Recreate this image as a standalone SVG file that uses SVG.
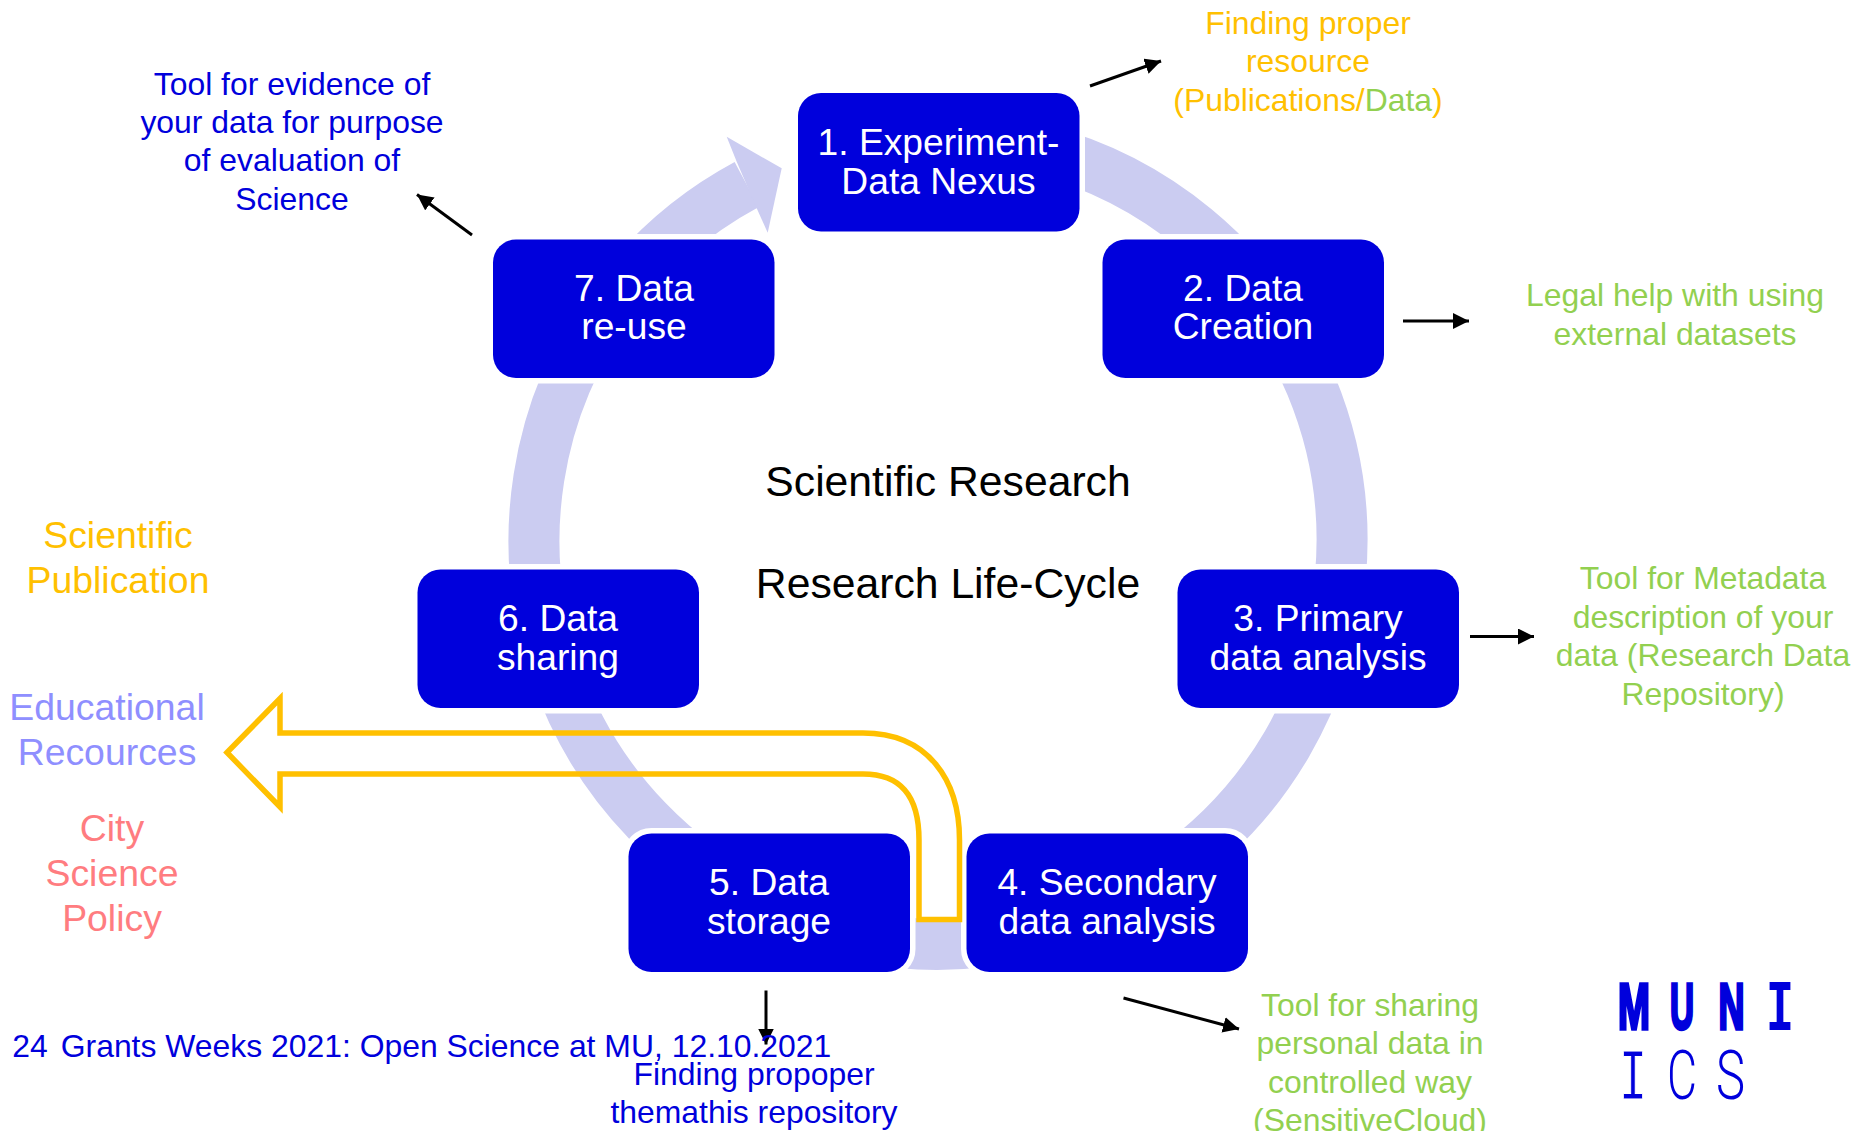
<svg xmlns="http://www.w3.org/2000/svg" width="1854" height="1131" viewBox="0 0 1854 1131">
<style>
text{font-family:"Liberation Sans",Arial,sans-serif;text-anchor:middle}
.n{fill:#0000DC;stroke:#fff;stroke-width:11;paint-order:stroke}
.nt{fill:#fff;font-size:37.2px}
.c{stroke:#000;stroke-width:3;fill:none;marker-end:url(#a)}
.l{font-size:31.9px}
.b{fill:#0000DC}.g{fill:#92D050}.y{fill:#FFC000}
.s{font-size:37.4px}
.t{fill:#000;font-size:42.7px}
.lb{fill:#0000DC;stroke:#0000DC;stroke-width:3.5;font-size:64px;font-weight:bold;text-anchor:start}
.lm{fill:#0000DC;font-family:"Liberation Mono",monospace;font-size:72px;text-anchor:start}
.ll{fill:#0000DC;font-family:Roboto,sans-serif;font-weight:300;font-size:68px;text-anchor:start}
</style>
<defs><marker id="a" markerUnits="userSpaceOnUse" markerWidth="18" markerHeight="18" refX="16" refY="8" orient="auto"><path d="M0 0L16 8L0 16Z" fill="#000"/></marker></defs>
<rect width="1854" height="1131" fill="#fff"/>
<g id="ring">
<path d="M1040 149.4A404 404 0 1 1 746.700 184.500" fill="none" stroke="#CBCCF1" stroke-width="51"/>
<path d="M736.700 161.700L726.700 136.700L781.700 168.300L767.700 232.700L756.700 208.300Z" fill="#CBCCF1"/>
</g>
<g id="node1"><rect class="n" x="798" y="93" width="281.500" height="138.500" rx="23"/><text class="nt" x="938.500" y="155">1. Experiment-</text><text class="nt" x="938.500" y="194">Data Nexus</text></g>
<g id="node2"><rect class="n" x="1102.500" y="239.500" width="281.500" height="138.500" rx="23"/><text class="nt" x="1243" y="301">2. Data</text><text class="nt" x="1243" y="339">Creation</text></g>
<g id="node3"><rect class="n" x="1177.500" y="569.500" width="281.500" height="138.500" rx="23"/><text class="nt" x="1318" y="631">3. Primary</text><text class="nt" x="1318" y="670">data analysis</text></g>
<g id="node4"><rect class="n" x="966.500" y="833.500" width="281.500" height="138.500" rx="23"/><text class="nt" x="1107" y="894.500">4. Secondary</text><text class="nt" x="1107" y="933.500">data analysis</text></g>
<g id="node5"><rect class="n" x="628.500" y="833.500" width="281.500" height="138.500" rx="23"/><text class="nt" x="769" y="894.500">5. Data</text><text class="nt" x="769" y="933.500">storage</text></g>
<g id="node6"><rect class="n" x="417.500" y="569.500" width="281.500" height="138.500" rx="23"/><text class="nt" x="558" y="631">6. Data</text><text class="nt" x="558" y="670">sharing</text></g>
<g id="node7"><rect class="n" x="493" y="239.500" width="281.500" height="138.500" rx="23"/><text class="nt" x="634" y="301">7. Data</text><text class="nt" x="634" y="339">re-use</text></g>
<g id="connectors">
<path class="c" d="M1090 86L1161 61"/>
<path class="c" d="M1403 321H1469"/>
<path class="c" d="M1470 636.500H1534"/>
<path class="c" d="M1123.500 998L1239 1029"/>
<path class="c" d="M766 990.500V1044.500"/>
<path class="c" d="M472 235L417 194.500"/>
</g>
<g id="bigarrow"><path d="M227 752.500L280 698.500V733H863C928 733 959.500 780 959.500 840V919.500H919V840C919 795 900 774 863 774H280V807Z" fill="none" stroke="#FFC000" stroke-width="5.500"/></g>
<g id="labels">
<text class="t" x="948" y="495.500">Scientific Research</text>
<text class="t" x="948" y="598">Research Life-Cycle</text>
<text class="l y" x="1308" y="34">Finding proper</text>
<text class="l y" x="1308" y="72">resource</text>
<text class="l y" x="1308" y="111">(Publications/<tspan class="g">Data</tspan>)</text>
<text class="l g" x="1675" y="306">Legal help with using</text>
<text class="l g" x="1675" y="345">external datasets</text>
<text class="l g" x="1703" y="589">Tool for Metadata</text>
<text class="l g" x="1703" y="628">description of your</text>
<text class="l g" x="1703" y="666">data (Research Data</text>
<text class="l g" x="1703" y="705">Repository)</text>
<text class="l g" x="1370" y="1016">Tool for sharing</text>
<text class="l g" x="1370" y="1054">personal data in</text>
<text class="l g" x="1370" y="1093">controlled way</text>
<text class="l g" x="1370" y="1131">(SensitiveCloud)</text>
<text class="l b" x="754" y="1085">Finding propoper</text>
<text class="l b" x="754" y="1123">themathis repository</text>
<text class="l b" x="292" y="95">Tool for evidence of</text>
<text class="l b" x="292" y="133">your data for purpose</text>
<text class="l b" x="292" y="171">of evaluation of</text>
<text class="l b" x="292" y="210">Science</text>
<text class="s y" x="118" y="547.500">Scientific</text>
<text class="s y" x="118" y="592.500">Publication</text>
<text class="s" fill="#8F8FFF" x="107" y="719.500">Educational</text>
<text class="s" fill="#8F8FFF" x="107" y="764.500">Recources</text>
<text class="s" fill="#FF7C80" x="112" y="840.500">City</text>
<text class="s" fill="#FF7C80" x="112" y="885.500">Science</text>
<text class="s" fill="#FF7C80" x="112" y="930.500">Policy</text>
<text class="l b" x="30" y="1057">24</text>
<text class="l b" x="446" y="1057">Grants Weeks 2021: Open Science at MU, 12.10.2021</text>
</g>
<g id="logo">
<text class="lb" x="1618" y="1028.500" textLength="32" lengthAdjust="spacingAndGlyphs">M</text>
<text class="lb" x="1670" y="1028.500" textLength="24" lengthAdjust="spacingAndGlyphs">U</text>
<text class="lb" x="1718.500" y="1028.500" textLength="26" lengthAdjust="spacingAndGlyphs">N</text>
<text class="lm" font-weight="bold" x="1766" y="1030" textLength="28" lengthAdjust="spacingAndGlyphs">I</text>
<text class="lm" stroke="#fff" stroke-width="1" x="1619" y="1099" textLength="28" lengthAdjust="spacingAndGlyphs">I</text>
<text class="ll" x="1667" y="1099" textLength="30" lengthAdjust="spacingAndGlyphs">C</text>
<text class="ll" x="1716" y="1099" textLength="29" lengthAdjust="spacingAndGlyphs">S</text>
</g>
</svg>
